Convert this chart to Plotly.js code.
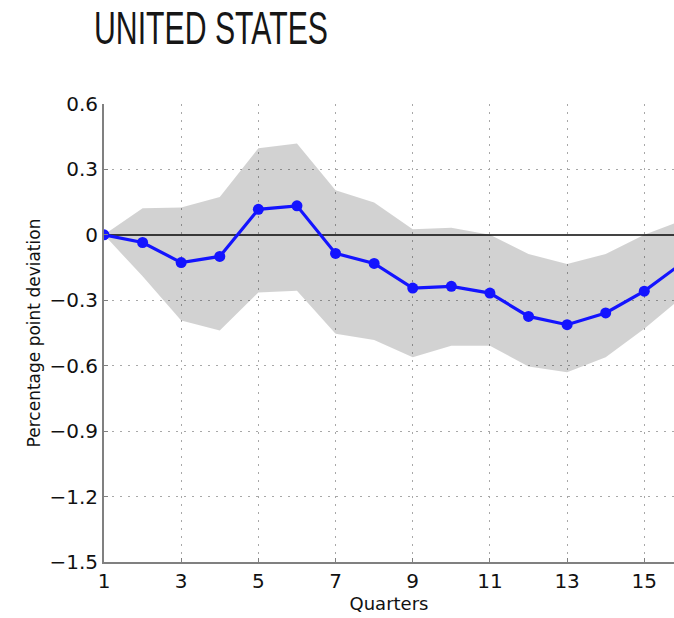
<!DOCTYPE html>
<html>
<head>
<meta charset="utf-8">
<script src="https://cdn.plot.ly/plotly-3.0.1.min.js"></script>
<style>html,body{margin:0;padding:0;background:#fff;} #chart{width:674px;height:618px;}</style>
</head>
<body>
<div id="chart"></div>
<script>
// Quarters after the shock
const quarters = [1, 2, 3, 4, 5, 6, 7, 8, 9, 10, 11, 12, 13, 14, 15, 16];
// Median response (percentage point deviation)
const median = [0, -0.035, -0.127, -0.099, 0.117, 0.133, -0.085, -0.131, -0.244, -0.236, -0.267, -0.374, -0.412, -0.358, -0.258, -0.127];
// Upper and lower bounds of the confidence band
const upper = [0, 0.122, 0.125, 0.174, 0.397, 0.419, 0.204, 0.148, 0.026, 0.033, 0.0, -0.088, -0.134, -0.088, 0.0, 0.067];
const lower = [0, -0.19, -0.393, -0.439, -0.264, -0.256, -0.454, -0.482, -0.561, -0.508, -0.508, -0.604, -0.63, -0.561, -0.431, -0.283];
const xTicks = [1, 3, 5, 7, 9, 11, 13, 15];
const yTicks = [0.6, 0.3, 0, -0.3, -0.6, -0.9, -1.2, -1.5];
const yTickText = ["0.6", "0.3", "0", "\u22120.3", "\u22120.6", "\u22120.9", "\u22121.2", "\u22121.5"];

const bandX = quarters.concat(quarters.slice().reverse());
const bandY = upper.concat(lower.slice().reverse());

const traces = [
  {x: bandX, y: bandY, type: 'scatter', mode: 'lines', fill: 'toself',
   fillcolor: 'rgba(0,0,0,0.175)', line: {width: 0}, hoverinfo: 'skip', showlegend: false},
  {x: quarters, y: median, type: 'scatter', mode: 'lines+markers',
   line: {color: '#1414ff', width: 3.2}, marker: {color: '#1414ff', size: 11}, showlegend: false}
];

const font = "'DejaVu Sans', sans-serif";
const layout = {
  width: 674, height: 618,
  margin: {l: 104, r: 0, t: 104, b: 56},
  paper_bgcolor: '#fff', plot_bgcolor: '#fff',
  title: {text: 'UNITED STATES', font: {family: "'Liberation Sans', Arial, sans-serif", size: 46, color: '#161616'},
          x: 0.313, xanchor: 'center', y: 0.955, yanchor: 'middle'},
  xaxis: {range: [1, 15.77], tickvals: xTicks, ticktext: xTicks.map(String),
          tickfont: {family: font, size: 20, color: '#111'},
          ticks: 'inside', ticklen: 4, tickcolor: '#808080',
          showline: true, linecolor: '#808080', linewidth: 2,
          showgrid: true, gridcolor: '#a8a8a8', griddash: '2px,6px', gridwidth: 1,
          zeroline: false,
          title: {text: 'Quarters', font: {family: font, size: 18, color: '#111'}, standoff: 4}},
  yaxis: {range: [-1.5, 0.6], tickvals: yTicks, ticktext: yTickText,
          tickfont: {family: font, size: 20, color: '#111'},
          ticks: 'inside', ticklen: 4, tickcolor: '#808080',
          showline: true, linecolor: '#808080', linewidth: 2,
          showgrid: true, gridcolor: '#a8a8a8', griddash: '2px,6px', gridwidth: 1,
          zeroline: true, zerolinecolor: '#444', zerolinewidth: 1.4,
          title: {text: 'Percentage point deviation', font: {family: font, size: 17, color: '#111'}, standoff: 4}}
};

Plotly.newPlot('chart', traces, layout, {displayModeBar: false, staticPlot: true}).then(function () {
  // compress the title horizontally to match the narrow lettering of the original
  const t = document.querySelector('.gtitle');
  if (t) {
    const bb = t.getBBox();
    const targetW = 234, cx = 211;
    const s = targetW / bb.width;
    const ocx = bb.x + bb.width / 2;
    t.setAttribute('transform', 'translate(' + (cx - s * ocx) + ',0) scale(' + s + ',1)');
  }
});
</script>
</body>
</html>
